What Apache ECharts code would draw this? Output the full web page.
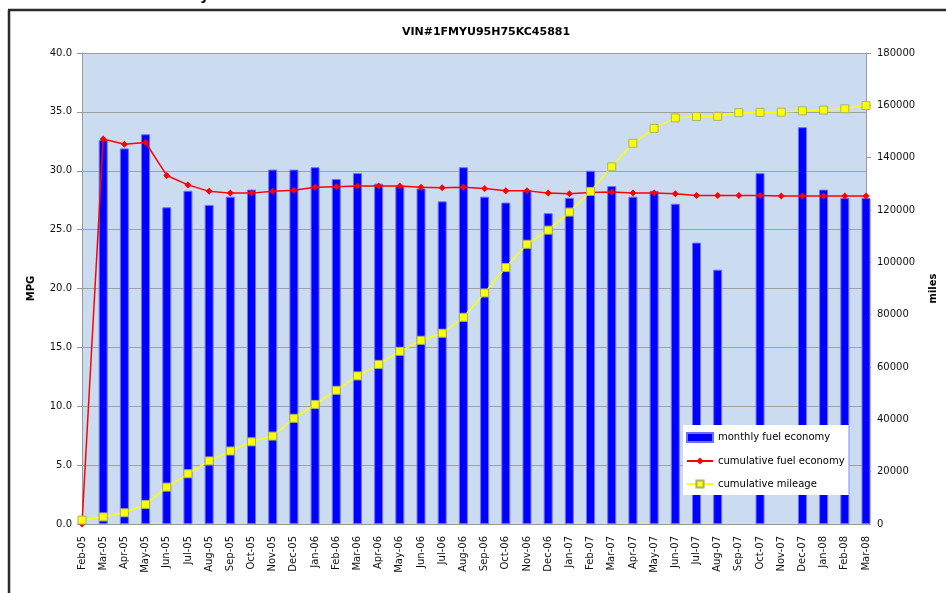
<!DOCTYPE html>
<html>
<head>
<meta charset="utf-8">
<title>VIN#1FMYU95H75KC45881</title>
<script src="https://cdn.jsdelivr.net/npm/echarts@6/dist/echarts.min.js"></script>
<style>
  html, body { margin: 0; padding: 0; background: #fff; }
  #chart { width: 946px; height: 593px; }
</style>
</head>
<body>
<div id="chart"></div>
<script>
var months = [
  "Feb-05", "Mar-05", "Apr-05", "May-05", "Jun-05", "Jul-05", "Aug-05", "Sep-05", "Oct-05", "Nov-05",
  "Dec-05", "Jan-06", "Feb-06", "Mar-06", "Apr-06", "May-06", "Jun-06", "Jul-06", "Aug-06", "Sep-06",
  "Oct-06", "Nov-06", "Dec-06", "Jan-07", "Feb-07", "Mar-07", "Apr-07", "May-07", "Jun-07", "Jul-07",
  "Aug-07", "Sep-07", "Oct-07", "Nov-07", "Dec-07", "Jan-08", "Feb-08", "Mar-08"
];

// monthly fuel economy (MPG), null = no fill-up that month
var monthlyMpg = [
  null, 32.6, 31.9, 33.1, 26.9, 28.3, 27.1, 27.8, 28.4, 30.1,
  30.1, 30.3, 29.3, 29.8, 28.9, 28.7, 28.5, 27.4, 30.3, 27.8,
  27.3, 28.3, 26.4, 27.7, 30.0, 28.7, 27.8, 28.3, 27.2, 23.9,
  21.6, null, 29.8, null, 33.7, 28.4, 27.7, 27.7
];

// cumulative fuel economy (MPG)
var cumulativeMpg = [
  0, 32.7, 32.25, 32.4, 29.6, 28.8, 28.25, 28.1, 28.1, 28.25,
  28.35, 28.6, 28.65, 28.7, 28.7, 28.7, 28.6, 28.55, 28.6, 28.5,
  28.3, 28.3, 28.1, 28.05, 28.15, 28.2, 28.1, 28.1, 28.05, 27.9,
  27.9, 27.9, 27.9, 27.85, 27.85, 27.85, 27.85, 27.85
];

// cumulative mileage (miles)
var cumulativeMiles = [
  1500, 2700, 4300, 7500, 14100, 19200, 24100, 27900, 31400, 33600,
  40400, 45700, 51100, 56600, 61000, 66000, 70200, 72900, 79000, 88300,
  98000, 106900, 112300, 119200, 127100, 136500, 145500, 151200, 155200, 155700,
  155800, 157200, 157300, 157400, 157900, 158200, 158700, 159900
];

var mpgTicks = [0, 40, 5];        // min, max, interval
var milesTicks = [0, 180000, 20000];

var font = "DejaVu Sans";

var myChart = echarts.init(document.getElementById("chart"));
myChart.setOption({
  animation: false,
  textStyle: { fontFamily: font },
  title: {
    text: "VIN#1FMYU95H75KC45881",
    left: 481,
    textAlign: "center",
    top: 22,
    textStyle: { fontSize: 11, fontWeight: "bold", color: "#000", fontFamily: font }
  },
  graphic: [
    // bits of the surrounding sheet: frame lines and a cut-off heading
    { type: "text", left: 200, top: -11, style: { text: "y", font: "bold 14px DejaVu Sans", fill: "#000" } },
    { type: "line", shape: { x1: 8, y1: 10, x2: 946, y2: 10 }, style: { stroke: "#2a2a2a", lineWidth: 2.5 } },
    { type: "line", shape: { x1: 9, y1: 10, x2: 9, y2: 593 }, style: { stroke: "#2a2a2a", lineWidth: 2.5 } }
  ],
  legend: {
    orient: "vertical",
    left: 683,
    top: 425,
    width: 163,
    padding: [7, 4, 6, 3],
    itemGap: 13,
    itemWidth: 26,
    itemHeight: 9,
    backgroundColor: "#fff",
    textStyle: { fontSize: 10, color: "#000", fontFamily: font },
    data: [
      { name: "monthly fuel economy", icon: "rect" },
      { name: "cumulative fuel economy" },
      { name: "cumulative mileage" }
    ]
  },
  grid: {
    left: 82,
    top: 53,
    right: 80,
    bottom: 69,
    show: true,
    backgroundColor: "#cbdcf1",
    borderWidth: 0
  },
  xAxis: {
    type: "category",
    data: months,
    boundaryGap: false,
    axisLine: { lineStyle: { color: "#999" } },
    axisTick: { show: false },
    axisLabel: {
      interval: 0,
      rotate: 90,
      margin: 12,
      fontSize: 10,
      color: "#111",
      fontFamily: font
    },
    splitLine: { show: false }
  },
  yAxis: [
    {
      type: "value",
      name: "MPG",
      nameLocation: "middle",
      nameRotate: 90,
      nameGap: 46,
      nameTextStyle: { fontSize: 10, fontWeight: "bold", color: "#000", fontFamily: font },
      min: mpgTicks[0],
      max: mpgTicks[1],
      interval: mpgTicks[2],
      axisLine: { show: true, lineStyle: { color: "#999" } },
      axisTick: { show: true, length: 5, lineStyle: { color: "#999" } },
      axisLabel: {
        margin: 10,
        fontSize: 10,
        color: "#111",
        fontFamily: font,
        formatter: function (v) { return v.toFixed(1); }
      },
      splitLine: { show: true, lineStyle: { color: "#a0a0a0", width: 1 } }
    },
    {
      type: "value",
      name: "miles",
      nameLocation: "middle",
      nameRotate: 90,
      nameGap: 62,
      nameTextStyle: { fontSize: 10, fontWeight: "bold", color: "#000", fontFamily: font },
      min: milesTicks[0],
      max: milesTicks[1],
      interval: milesTicks[2],
      axisLine: { show: true, lineStyle: { color: "#999" } },
      axisTick: { show: true, length: 5, lineStyle: { color: "#999" } },
      axisLabel: {
        margin: 11,
        fontSize: 10,
        color: "#111",
        fontFamily: font,
        formatter: function (v) { return String(v); }
      },
      splitLine: { show: false }
    }
  ],
  series: [
    {
      name: "monthly fuel economy",
      type: "bar",
      data: monthlyMpg,
      barWidth: 9,
      clip: true,
      itemStyle: { color: "#0000ff", borderColor: "#7070ff", borderWidth: 1 }
    },
    {
      name: "cumulative fuel economy",
      type: "line",
      data: cumulativeMpg,
      symbol: "diamond",
      symbolSize: 7,
      lineStyle: { color: "#ff0000", width: 1.5 },
      itemStyle: { color: "#ff0000" }
    },
    {
      name: "cumulative mileage",
      type: "line",
      yAxisIndex: 1,
      data: cumulativeMiles,
      symbol: "rect",
      symbolSize: 8,
      lineStyle: { color: "#ffff00", width: 1.5 },
      itemStyle: { color: "#ffff00", borderColor: "#a4b46a", borderWidth: 1 }
    }
  ]
});
</script>
</body>
</html>
